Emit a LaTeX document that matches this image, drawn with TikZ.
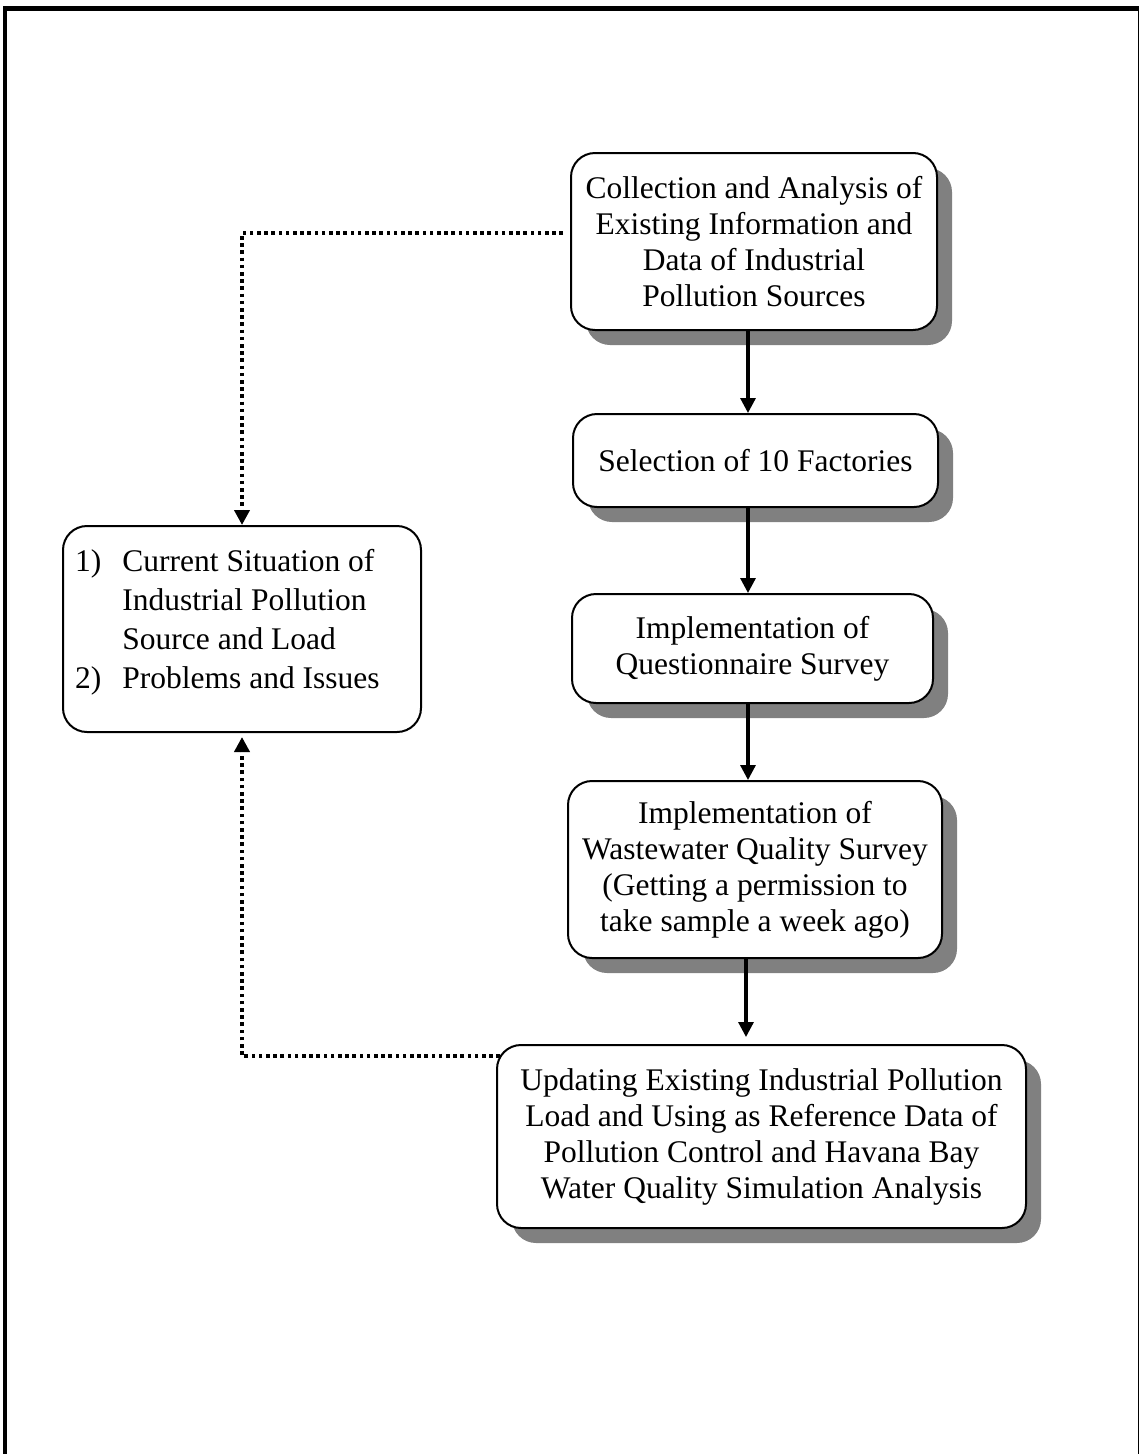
\documentclass[tikz,border=0pt]{standalone}
\usepackage{fontspec}
\setmainfont{Liberation Serif}
\usetikzlibrary{arrows.meta,shadows,calc}
\begin{document}
\begin{tikzpicture}[x=1pt,y=-1pt,
  every node/.style={font=\fontsize{31.5}{36}\selectfont},
  stepbox/.style={draw,line width=2pt,rounded corners=24pt,fill=white,align=center,inner sep=0pt,
    drop shadow={shadow xshift=15pt,shadow yshift=-15pt,fill=black!50,opacity=1}},
  resultbox/.style={draw,line width=2pt,rounded corners=24pt,fill=white,inner sep=0pt},
  flow/.style={line width=3.2pt,-{Triangle[width=15pt,length=15pt]}},
  feedback/.style={line width=3.8pt,dash pattern=on 3.6pt off 3.6pt,-{Triangle[width=15pt,length=15pt]}}]

\useasboundingbox (0,0) rectangle (1139,1454);

% page frame: heavy top and left rules, hairline on the right
\fill (3,6) rectangle (1139,10.5);
\fill (3,6) rectangle (7.3,1454);
\fill (1137.5,6) rectangle (1139,1454);

% main sequence of steps
\node[stepbox,minimum width=366pt,minimum height=177pt] (b1) at (754,241.5)
  {Collection and Analysis of\\Existing Information and\\Data of Industrial\\Pollution Sources};
\node[stepbox,minimum width=365pt,minimum height=93pt] (b2) at (755.5,460.5)
  {Selection of 10 Factories};
\node[stepbox,minimum width=361pt,minimum height=109pt] (b3) at (752.5,648.5)
  {Implementation of\\Questionnaire Survey};
\node[stepbox,minimum width=374pt,minimum height=177pt] (b4) at (755,869.5)
  {Implementation of\\Wastewater Quality Survey\\(Getting a permission to\\take sample a week ago)};
\node[stepbox,minimum width=529pt,minimum height=183pt] (b5) at (761.5,1136.5)
  {Updating Existing Industrial Pollution\\Load and Using as Reference Data of\\Pollution Control and Havana Bay\\Water Quality Simulation Analysis};

% outcome box on the left
\node[resultbox,minimum width=358pt,minimum height=206pt] (lbox) at (242,629) {};
\node[anchor=base west,inner sep=0pt] (ltext) at (75,571)
  {\fontsize{31.5}{39}\selectfont
   \begin{tabular}[t]{@{}l@{\hspace{21pt}}l@{}}
   1) & Current Situation of\\
      & Industrial Pollution\\
      & Source and Load\\
   2) & Problems and Issues
   \end{tabular}};

% solid arrows down the main column
\coordinate (col) at (748,0);
\draw[flow] (b1.south -| col) -- (b2.north -| col);
\draw[flow] (b2.south -| col) -- (b3.north -| col);
\draw[flow] (b3.south -| col) -- (b4.north -| col);
\coordinate (col2) at (746,0);
\draw[flow] (b4.south -| col2) -- ([yshift=7pt]b5.north -| col2);

% dotted feedback arrows into the outcome box
\coordinate (fbA) at ($(b1.west)+(-7,-8.5)$);
\draw[feedback] (fbA) -| (lbox.north);
\coordinate (fbB) at ($(b5.north west)+(4,12)$);
\draw[feedback] (fbB) -| ([yshift=-4pt]lbox.south);
\end{tikzpicture}
\end{document}
